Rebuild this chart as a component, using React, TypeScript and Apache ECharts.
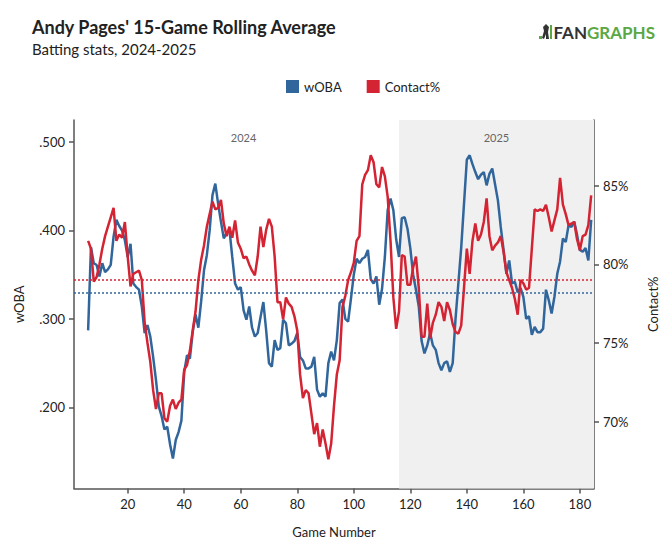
import React, { useEffect, useRef } from 'react';
import * as echarts from 'echarts';

// rolling values start at this game number, one value per game
const startGame = 6;

const woba = [
  0.287, 0.381, 0.363, 0.361, 0.348, 0.363, 0.353, 0.356, 0.361, 0.393,
  0.412, 0.405, 0.4, 0.389, 0.37, 0.385, 0.34, 0.336, 0.333, 0.314,
  0.284, 0.293, 0.28, 0.257, 0.231, 0.201, 0.19, 0.175, 0.178, 0.158,
  0.142, 0.163, 0.172, 0.185, 0.24, 0.259, 0.255, 0.285, 0.305, 0.29,
  0.32, 0.355, 0.372, 0.4, 0.44, 0.453, 0.43, 0.41, 0.391, 0.397,
  0.401, 0.37, 0.34, 0.333, 0.336, 0.31, 0.299, 0.314, 0.29, 0.28,
  0.284, 0.302, 0.319, 0.287, 0.25, 0.246, 0.276, 0.265, 0.267, 0.299,
  0.295, 0.27, 0.272, 0.275, 0.284, 0.257, 0.253, 0.244, 0.244, 0.246,
  0.257, 0.22, 0.212, 0.216, 0.212, 0.25, 0.263, 0.253, 0.276, 0.318,
  0.322, 0.3, 0.297, 0.323, 0.35, 0.368, 0.363, 0.368, 0.37, 0.378,
  0.345, 0.34, 0.348, 0.316, 0.334, 0.37, 0.423, 0.436, 0.423, 0.39,
  0.37, 0.414, 0.415, 0.402, 0.38, 0.35, 0.333, 0.314, 0.275, 0.261,
  0.27, 0.284, 0.27, 0.265, 0.25, 0.242, 0.25, 0.252, 0.24, 0.25,
  0.3, 0.34, 0.38, 0.43, 0.48, 0.485, 0.475, 0.466, 0.458, 0.463,
  0.466, 0.451, 0.464, 0.47, 0.452, 0.434, 0.404, 0.378, 0.351, 0.366,
  0.34, 0.342, 0.33, 0.335, 0.325, 0.3, 0.303, 0.282, 0.291, 0.285,
  0.285, 0.289, 0.333, 0.321, 0.306, 0.325, 0.351, 0.365, 0.391, 0.387,
  0.406, 0.404, 0.41, 0.395, 0.378, 0.376, 0.38, 0.366, 0.412,
];

const contact = [
  81.5, 81.0, 78.9, 79.2, 80.0, 81.0, 81.8, 82.4, 83.0, 83.6,
  81.5, 81.9, 81.7, 82.7, 80.5, 78.6, 79.4, 79.5, 79.6, 79.0,
  76.3, 75.0, 73.8, 72.0, 70.8, 71.8, 71.8, 70.2, 70.0, 71.0,
  71.4, 70.8, 71.2, 71.4, 73.3, 73.6, 74.5, 75.8, 77.0, 79.0,
  80.3, 81.2, 82.4, 83.2, 84.0, 83.5, 83.6, 84.1, 82.6, 81.8,
  82.4, 81.7, 82.8, 81.4, 81.0, 80.4, 80.5, 80.0, 79.6, 79.3,
  80.5, 82.4, 81.1, 82.2, 82.9, 82.4, 80.5, 77.6, 77.6, 76.5,
  77.9, 77.5, 77.3, 76.7, 75.8, 73.0, 71.5, 72.0, 71.8, 70.5,
  69.2, 69.9, 68.4, 69.5, 68.6, 67.6, 68.6, 71.0, 73.0, 73.9,
  77.3, 78.0, 79.0, 79.5, 80.1, 81.5, 81.8, 85.1, 85.7, 86.0,
  86.95, 86.5, 85.1, 84.9, 86.2, 85.6, 84.3, 81.5, 77.9, 75.9,
  77.0, 80.6, 80.5, 78.7, 78.7, 79.8, 80.5, 78.5, 75.4, 75.4,
  77.5, 75.3, 76.3, 76.8, 77.6, 77.3, 76.4, 77.6, 77.1, 76.2,
  75.7, 75.6, 76.1, 78.5, 81.0, 79.4, 81.5, 82.6, 81.5, 81.9,
  82.7, 84.2, 81.8, 80.9, 81.2, 81.4, 81.8, 80.8, 79.5, 79.0,
  78.5, 77.8, 76.8, 79.0, 78.8, 78.4, 78.5, 81.0, 83.5, 83.4,
  83.5, 83.4, 83.8, 83.0, 82.1, 82.8, 83.5, 85.5, 83.8, 83.2,
  82.5, 82.6, 82.7, 81.6, 80.9, 81.8, 81.9, 82.5, 84.4,
];

const wobaAvg = 0.331;
const contactAvg = 79.0;

const seasons = ['2024', '2025'];
const seasonBreak = 116;

const gameTicks = [20, 40, 60, 80, 100, 120, 140, 160, 180];
const wobaTicks = [0.2, 0.3, 0.4, 0.5];
const contactTicks = [70, 75, 80, 85];

const BLUE = '#31669c';
const RED = '#d42332';
const FONT = 'Lato, "Noto Sans", sans-serif';
const TEXT = '#222';

const App: React.FC = () => {
  const chartRef = useRef<HTMLDivElement>(null);

  useEffect(() => {
    if (!chartRef.current) return;
    const chart = echarts.init(chartRef.current, null, { renderer: 'svg' });

    const xMin = 1;
    const xMax = 185;
    const axisLineStyle = { color: '#555', width: 1.5 };

    const option: echarts.EChartsOption = {
      animation: false,
      backgroundColor: '#fff',
      textStyle: { fontFamily: FONT },
      title: {
        text: "Andy Pages' 15-Game Rolling Average",
        subtext: 'Batting stats, 2024-2025',
        left: 27,
        top: 13,
        itemGap: 5,
        textStyle: { fontFamily: FONT, fontSize: 18, fontWeight: 'bold', color: TEXT },
        subtextStyle: { fontFamily: FONT, fontSize: 15, color: TEXT },
      },
      legend: {
        left: 281,
        top: 75,
        icon: 'rect',
        itemWidth: 13,
        itemHeight: 13,
        itemGap: 25,
        textStyle: { fontFamily: FONT, fontSize: 13, color: TEXT },
        data: ['wOBA', 'Contact%'],
      },
      graphic: [
        {
          type: 'group',
          left: 539,
          top: 24,
          children: [
            { type: 'rect', shape: { x: 0, y: 12, width: 3, height: 3 }, style: { fill: '#5aa843' } },
            {
              type: 'polygon',
              shape: { points: [[4, 3], [7, 0], [10, 3], [9, 8], [10, 15], [7, 15], [7, 10], [5, 15], [3, 14], [5, 7]] },
              style: { fill: '#333' },
            },
            { type: 'rect', shape: { x: 11, y: 1, width: 2, height: 14 }, style: { fill: '#5aa843' } },
          ],
        },
        {
          type: 'text',
          right: 17,
          top: 24,
          style: {
            text: '{a|FAN}{b|GRAPHS}',
            rich: {
              a: { fill: '#333', fontFamily: FONT, fontSize: 17, fontWeight: 'bold' },
              b: { fill: '#5aa843', fontFamily: FONT, fontSize: 17, fontWeight: 'bold' },
            },
          },
        },
      ],
      grid: { left: 74, right: 78, top: 120, bottom: 62.5 },
      xAxis: {
        type: 'value',
        min: xMin,
        max: xMax,
        name: 'Game Number',
        nameLocation: 'middle',
        nameGap: 37,
        nameTextStyle: { fontFamily: FONT, fontSize: 13, color: TEXT },
        axisLine: { show: true, lineStyle: axisLineStyle },
        axisTick: { show: true, customValues: gameTicks, length: 5, lineStyle: axisLineStyle },
        axisLabel: { customValues: gameTicks, fontSize: 13, color: TEXT, margin: 9 },
        splitLine: { show: false },
      },
      yAxis: [
        {
          type: 'value',
          position: 'left',
          min: 0.1082,
          max: 0.5249,
          name: 'wOBA',
          nameLocation: 'middle',
          nameGap: 49,
          nameRotate: 90,
          nameTextStyle: { fontFamily: FONT, fontSize: 13, color: TEXT },
          axisLine: { show: true, lineStyle: axisLineStyle },
          axisTick: { show: true, customValues: wobaTicks, length: 5, lineStyle: axisLineStyle },
          axisLabel: {
            customValues: wobaTicks,
            fontSize: 13,
            color: TEXT,
            margin: 9,
            formatter: (v: number) => v.toFixed(3).replace(/^0/, ''),
          },
          splitLine: { show: false },
        },
        {
          type: 'value',
          position: 'right',
          min: 65.74,
          max: 89.19,
          name: 'Contact%',
          nameLocation: 'middle',
          nameGap: 52,
          nameRotate: 90,
          nameTextStyle: { fontFamily: FONT, fontSize: 13, color: TEXT },
          axisLine: { show: true, lineStyle: axisLineStyle },
          axisTick: { show: true, customValues: contactTicks, length: 5, lineStyle: axisLineStyle },
          axisLabel: {
            customValues: contactTicks,
            fontSize: 13,
            color: TEXT,
            margin: 9,
            formatter: (v: number) => `${v}%`,
          },
          splitLine: { show: false },
        },
      ],
      series: [
        {
          name: 'wOBA',
          type: 'line',
          yAxisIndex: 0,
          symbol: 'none',
          showSymbol: false,
          data: woba.map((v, i) => [startGame + i, v]),
          lineStyle: { color: BLUE, width: 2.5 },
          itemStyle: { color: BLUE },
          markArea: {
            silent: true,
            label: {
              show: true,
              position: 'insideTop',
              distance: 12,
              color: '#666',
              fontFamily: FONT,
              fontSize: 11,
            },
            data: [
              [
                { name: seasons[0], xAxis: startGame, itemStyle: { color: 'rgba(0,0,0,0)' } },
                { xAxis: seasonBreak },
              ],
              [
                { name: seasons[1], xAxis: seasonBreak, itemStyle: { color: '#f0f0f0' } },
                { xAxis: xMax },
              ],
            ],
          },
          markLine: {
            silent: true,
            symbol: ['none', 'none'],
            label: { show: false },
            lineStyle: { color: BLUE, type: [2, 2], width: 1.5 },
            data: [{ yAxis: wobaAvg }],
          },
        },
        {
          name: 'Contact%',
          type: 'line',
          yAxisIndex: 1,
          symbol: 'none',
          showSymbol: false,
          data: contact.map((v, i) => [startGame + i, v]),
          lineStyle: { color: RED, width: 2.5 },
          itemStyle: { color: RED },
          markLine: {
            silent: true,
            symbol: ['none', 'none'],
            label: { show: false },
            lineStyle: { color: RED, type: [2, 2], width: 1.5 },
            data: [{ yAxis: contactAvg }],
          },
        },
      ],
    };

    chart.setOption(option);

    return () => {
      chart.dispose();
    };
  }, []);

  return (
    <div
      ref={chartRef}
      style={{ position: 'fixed', left: 0, top: 0, width: 672, height: 551, background: '#fff' }}
    />
  );
};

export default App;
